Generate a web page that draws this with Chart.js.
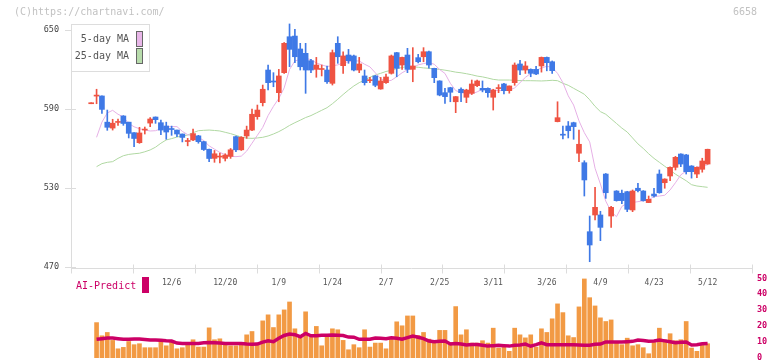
<!DOCTYPE html>
<html><head><meta charset="utf-8">
<script src="https://cdn.jsdelivr.net/npm/chart.js@4"></script>
<style>html,body{margin:0;padding:0;background:#fff}#wrap{width:772px;height:361px;position:relative}</style>
</head><body><div id="wrap"><canvas id="c" width="772" height="361"></canvas></div>
<script>
const dates = ['11/14','11/15','11/18','11/19','11/20','11/21','11/22','11/26','11/27','11/28','11/29','12/2','12/3','12/4','12/5','12/6','12/9','12/10','12/11','12/12','12/13','12/16','12/17','12/18','12/19','12/20','12/23','12/24','12/25','12/26','12/27','12/30','1/6','1/7','1/8','1/9','1/10','1/14','1/15','1/16','1/17','1/20','1/21','1/22','1/23','1/24','1/27','1/28','1/29','1/30','1/31','2/3','2/4','2/5','2/6','2/7','2/10','2/12','2/13','2/14','2/17','2/18','2/19','2/20','2/21','2/25','2/26','2/27','2/28','3/3','3/4','3/5','3/6','3/7','3/10','3/11','3/12','3/13','3/14','3/17','3/18','3/19','3/21','3/24','3/25','3/26','3/27','3/28','3/31','4/1','4/2','4/3','4/4','4/7','4/8','4/9','4/10','4/11','4/14','4/15','4/16','4/17','4/18','4/21','4/22','4/23','4/24','4/25','4/28','4/30','5/1','5/2','5/7','5/8','5/9','5/12'];
const opens = [594,599.8,599.9,580,575.5,579.8,584.7,580,572,564.4,574,579.3,583.9,579.6,577.1,574.8,574,571,565.3,566.5,569.6,565.2,559.4,552.5,553.5,552.5,554,569,559,569.5,574,584.2,594.8,619.6,611,602.4,617.6,644.9,645.4,635.6,632.3,626.7,620.1,620,619.6,609.5,639.9,622.9,631,630.3,619.6,615.1,611.5,615.1,605.2,610,617.1,632.8,623.4,631,620.1,629,629.7,633.5,620.9,611.3,602.4,606.2,595.5,605,598.9,601.9,607.7,605.7,605.7,598.9,605.5,609,603.9,610,624.2,619.6,620.1,620.1,622.7,629.2,625.9,580.4,570.6,577.1,579.6,556.4,549.2,496.8,509.5,509.5,540.6,508.7,527.7,526,527.2,513.3,529.8,527.7,518.9,525.4,540.6,534,539.1,545.7,555.8,555.1,546.7,540.6,544.2,548.2];
const highs = [594,605,600,589.2,582.2,582.4,585,580,572,576.1,576.3,583.4,584,581.6,580,577,574,571,567.7,574.7,570,565.5,559.5,558.5,556.5,556,560,569.5,569,577,590,593,608.2,623.4,617.6,620.1,640.5,654.6,650.5,639.9,639.9,627.7,629.2,623.4,622.6,634.8,644.9,633.5,635.3,631,629.2,619.6,614,615.5,614,616.5,631,633,629.5,636.1,636.6,631.5,636.6,634,621,611.5,605.7,606.5,599.5,606,605,612,612,611.3,606,605,608.5,609.5,607.5,625,627,626,620.5,622.5,629.5,629.5,626.5,595.5,577.1,580.5,580,574,550.7,508.7,530.5,512.3,541,516,528,528.5,527.5,528.5,533.6,528,523.9,529.8,543.7,537,546,554,556,555.5,547,546,552.6,559.5];
const lows = [594,594,586.7,573.8,574,577.6,577.6,568,561.4,563.9,571,576.6,579.1,570.5,567,570,569,565,562,566,564,558.5,550,549.5,549,550.5,552.5,557.5,558.5,567.7,573.5,582.2,592.3,604.4,606.9,595.5,617,622.1,625.2,619.6,601.9,617.6,614.1,615.1,609.5,608.2,624.7,617.1,624.7,619,617.6,608.2,610,606.9,605,609.5,616.5,614.5,620.1,617.6,610.7,625,625.9,621,610,600,594.3,595.5,587.2,595.5,594.8,601,607,603,598.9,589.2,602.4,601.5,602,608,616,617,614.5,616,618,619,617,580.2,567.2,568,567,550,523.9,474,505.7,490,522.1,500.1,520,518,512,512,527,520,518.9,523,526,529.8,535.5,543.7,546.2,540.6,537.5,537.8,542,548];
const closes = [594,600.2,589.7,576.1,579.2,580.2,579,571.5,567.6,571.8,574.4,582.4,581.9,574,572.5,574.4,571,568.4,565.7,571.3,565.2,559.2,552.4,556,554,555,559,559,568.5,574,586,589.2,605,610,610.5,615.1,639.9,635.3,629.7,622.1,619.6,619.6,623.4,620.3,610.7,632.8,629.7,630.3,626.7,619.6,624.2,610,612,608,611.3,614.3,630.3,620.9,629.2,620.1,622.7,625.9,633.5,623.4,613.8,600.6,599.4,602.7,599.4,602.4,604.4,609,611.3,604.4,602.4,604.4,605.9,603.9,607.5,623.4,619.6,622.7,617.1,616.6,629.2,625.2,619.1,583.4,570.1,573.5,576.6,563.2,536.1,486.7,515.3,500.1,526.4,515.3,520.4,520.4,513.8,527.7,528,520.4,521.4,523.9,526.4,536.8,545.7,553.3,548.2,542.4,542.4,545.7,550.5,559.4];
const ma5 = [null,568.5,580,587,589,586,584,579,576.5,575,574,573.3,573.5,575,576.5,576.6,576.6,573,570.5,569.5,568.5,566,562,559.5,557,555.3,554,553.8,554.2,558,564,570,576,585,592,598,606,620,626.5,627.7,628.4,627.5,625,623.5,622.3,622.8,623.5,625,625.9,626.5,626.5,624,622,617.5,613,611,611.8,614.5,617.5,619.8,621.5,623.5,624.5,625.2,624,620,617,609.5,604,602.4,601.8,601.4,603,605,604.5,604.3,604,604,604.4,606,610,614,617.1,619.5,621,622.5,621.5,617.1,610,600,593,581,572,565,545,533,520,512,508.2,516,518.4,519,519.6,520.3,521,523.5,523.9,524.5,528.5,534,540,542.8,544.5,545.7,547,547.5];
const ma25 = [null,546.2,548.5,549.5,550,552.5,554.5,555.5,556,556.4,557.5,558.9,561,564,566.5,567.5,568.7,569.5,570.2,572,573.5,573.8,574,573.7,573.3,572.3,571.3,570,568.7,567.9,567.7,568,568.5,569.5,571,572.8,575,577.5,579.6,581.5,583.5,585,587,589,591,594,597.4,601,604.4,607.5,610,612,614.1,615.8,617.1,618.5,619.4,620.7,621.5,622.3,622,621.7,621.2,620.9,620.5,620.1,619.5,618.8,618,617.5,616.8,616,615,614.4,613.5,612.5,612,612,612,611.8,611.6,611.5,611.5,611.4,611.3,611.5,611.8,611.5,609.5,608,605.7,603.5,601.2,597,592,588,586,582.5,579,575.5,572.5,568,563.5,560,556,552.5,549.5,546.5,543.5,540.5,538,535.5,532.5,531.5,531,530.5];
const volume = [null,22.1,13.8,15.9,10.9,5.6,6.5,10.2,8.2,8.8,6.3,6.3,6.3,11.3,7.5,10.9,5.6,6.3,9.2,11.3,6.7,6.7,18.8,11.3,11.9,9.2,7.5,7.5,9.2,14.4,16.5,9.2,23.2,27,19,27,30.1,35.1,18.2,13.8,28.9,12.8,19.7,7.5,13,18.2,17.6,10.9,5,8.2,6.3,17.6,6.7,9.2,9.2,5.6,11.5,22.6,20.1,26.3,26.3,14,15.9,11.7,10.2,17.2,17.2,9.6,32.2,14.4,17.6,9.2,9.2,10.7,9.2,18.6,6.1,6.7,4,18.6,14.4,12.5,14.4,6.7,18.2,15.9,24.5,33.9,28.4,13.8,12.7,32,49.6,37.8,32.6,25.1,22.8,23.8,9.2,8.2,12.3,7.5,8.2,6.3,2.5,9.6,18.6,11.3,15.1,10.7,11.3,22.8,6.1,4,8.6,8.8];
const aiPredict = [null,11.6,12,12.4,12.4,12,11.6,11.6,11.8,11.8,11.5,11.2,11.1,11,10.7,10.5,9.2,9,9,9,9,9.4,9.6,9.4,9.2,9,9,9,9,8.6,8.4,8.6,9.8,10.7,10.1,12.2,14,14.9,14.5,13.2,15.3,13.8,13.8,14.1,14.2,14.3,14.2,14,13,12.9,11.6,11.6,11.6,12.4,12.2,12,12.6,12.3,11.6,12.6,13.6,12.9,12,10.5,10.1,10.3,10.5,8.6,9,8.6,8,8.3,8.3,7.8,7.3,7.6,7.8,7.6,7.3,7.8,8,8.6,7.2,8.2,9.4,8.2,8.2,8.2,8.2,8.2,8.2,8,7.8,7.8,8.4,8.6,9.9,9.9,9.9,9.9,10.1,10.3,11.1,10.8,10.3,10.5,11.1,10.6,10,9.4,9.7,9.9,8,8.2,8.8,9];
const xTickLabels = ['12/6','12/20','1/9','1/24','2/7','2/25','3/11','3/26','4/9','4/23','5/12'];
const priceTicks = [470,530,590,650];
const volumeTicks = [0,10,20,30,40,50];

const RED = '#ef5342', BLUE = '#3f79e6';
const candleColors = opens.map((o,i)=> closes[i] >= o ? RED : BLUE);
const pts = arr => arr.map((v,i)=> v==null ? null : {x:i, y:v}).filter(p=>p);
const MONO = '"DejaVu Sans Mono", monospace';

const deco = {
  id:'deco',
  afterDraw(chart){
    const ctx = chart.ctx, a = chart.chartArea, xs = chart.scales.x, ys = chart.scales.y;
    ctx.save();
    ctx.textBaseline = 'middle';
    ctx.font = '10px ' + MONO;
    ctx.fillStyle = '#c2c2c2';
    ctx.textAlign = 'left';
    ctx.fillText('(C)https://chartnavi.com/', 14, 12);
    ctx.textAlign = 'right';
    ctx.fillText('6658', 757, 12);
    // axes
    const yb = Math.round(ys.getPixelForValue(priceTicks[0])) + 1.5;
    ctx.strokeStyle = '#dcdcdc'; ctx.lineWidth = 1;
    ctx.beginPath();
    ctx.moveTo(a.left + 0.5, a.top + 4); ctx.lineTo(a.left + 0.5, yb);
    ctx.moveTo(a.left, yb); ctx.lineTo(a.right, yb);
    for (let k = 0; k <= 11; k++) {
      const x = Math.round(a.left + k * (a.right - a.left) / 11) + 0.5;
      ctx.moveTo(x, yb - 4); ctx.lineTo(x, yb + 5);
    }
    priceTicks.forEach(v => {
      const y = Math.round(ys.getPixelForValue(v)) + 0.5;
      ctx.moveTo(a.left - 6, y); ctx.lineTo(a.left + 5, y);
    });
    ctx.stroke();
    // x labels
    ctx.font = '8px ' + MONO; ctx.fillStyle = '#555'; ctx.textAlign = 'center';
    xTickLabels.forEach(l => {
      const i = dates.indexOf(l);
      ctx.fillText(l, xs.getPixelForValue(i), yb + 14);
    });
    // legend
    ctx.fillStyle = '#fff'; ctx.strokeStyle = '#dddddd';
    ctx.fillRect(a.left + 0.5, a.top + 4.5, 78, 47);
    ctx.strokeRect(a.left + 0.5, a.top + 4.5, 78, 47);
    ctx.font = '10px ' + MONO; ctx.fillStyle = '#555'; ctx.textAlign = 'right';
    ctx.fillText('5-day MA', a.left + 58, a.top + 19);
    ctx.fillText('25-day MA', a.left + 58, a.top + 36);
    ctx.strokeStyle = '#666';
    ctx.fillStyle = '#e8b6e8'; ctx.fillRect(a.left + 65.5, a.top + 11.5, 6, 15); ctx.strokeRect(a.left + 65.5, a.top + 11.5, 6, 15);
    ctx.fillStyle = '#b8dcac'; ctx.fillRect(a.left + 65.5, a.top + 28.5, 6, 15); ctx.strokeRect(a.left + 65.5, a.top + 28.5, 6, 15);
    // AI-Predict label
    ctx.font = '10px ' + MONO; ctx.fillStyle = '#cc0066'; ctx.textAlign = 'left';
    ctx.fillText('AI-Predict', 76, 286);
    ctx.fillRect(142, 277, 7, 16);
    ctx.restore();
  }
};

new Chart(document.getElementById('c'), {
  type: 'bar',
  data: {
    datasets: [
      { type:'bar', label:'body', data: opens.map((o,i)=>({x:i, y:[o, closes[i]]})), backgroundColor: candleColors, barThickness:5, minBarLength:1, grouped:false, yAxisID:'y', order:1 },
      { type:'bar', label:'wick', data: lows.map((l,i)=>({x:i, y:[l, highs[i]]})), backgroundColor: candleColors, barThickness:1, minBarLength:1, grouped:false, yAxisID:'y', order:2 },
      { type:'line', label:'5-day MA', data: pts(ma5), borderColor:'#e6b0e6', borderWidth:1, pointRadius:0, tension:0, yAxisID:'y', order:3 },
      { type:'line', label:'25-day MA', data: pts(ma25), borderColor:'#b0d8a2', borderWidth:1, pointRadius:0, tension:0, yAxisID:'y', order:3 },
      { type:'line', label:'AI-Predict', data: pts(aiPredict), borderColor:'#cc0066', borderWidth:3.5, pointRadius:0, tension:0, yAxisID:'yv', order:4 },
      { type:'bar', label:'volume', data: pts(volume), backgroundColor:'#f29a44', barThickness:4, grouped:false, yAxisID:'yv', order:5 }
    ]
  },
  options: {
    responsive:false, animation:false, devicePixelRatio:1,
    layout:{ padding:{ top:20, bottom:2, left:0, right:0 } },
    plugins:{ legend:{display:false}, tooltip:{enabled:false} },
    scales:{
      x:{ type:'linear', display:false, offset:false, min:-3.77, max:123.28 },
      y:{ type:'linear', position:'left', min:400.1, max:657.6,
          grid:{display:false, drawTicks:false}, border:{display:false},
          ticks:{ autoSkip:false, padding:12, color:'#444', font:{family:MONO, size:8.5} },
          afterBuildTicks: s => { s.ticks = priceTicks.map(v=>({value:v})); },
          afterFit: s => { s.width = 71; s.paddingTop = 0; s.paddingBottom = 0; } },
      yv:{ type:'linear', position:'right', min:-0.82, max:212.7,
          grid:{display:false, drawTicks:false}, border:{display:false},
          ticks:{ autoSkip:false, padding:5, color:'#cc0066', font:{family:MONO, size:8.5, weight:'bold'} },
          afterBuildTicks: s => { s.ticks = volumeTicks.map(v=>({value:v})); },
          afterFit: s => { s.width = 20; s.paddingTop = 0; s.paddingBottom = 0; } }
    }
  },
  plugins:[deco]
});
</script></body></html>
